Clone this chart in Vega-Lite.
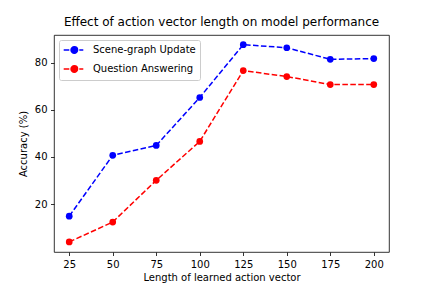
{
  "$schema": "https://vega.github.io/schema/vega-lite/v6.json",
  "autosize": {"type": "none"},
  "width": 335,
  "height": 217,
  "padding": {"left": 54, "top": 35, "right": 43, "bottom": 36},
  "background": "white",
  "title": {"text": "Effect of action vector length on model performance", "font": "DejaVu Sans", "fontSize": 12, "fontWeight": "normal", "color": "black", "anchor": "middle", "offset": 6},
  "data": {"values": [
    {"length": 25, "series": "Scene-graph Update", "accuracy": 14.9},
    {"length": 50, "series": "Scene-graph Update", "accuracy": 40.7},
    {"length": 75, "series": "Scene-graph Update", "accuracy": 44.9},
    {"length": 100, "series": "Scene-graph Update", "accuracy": 65.2},
    {"length": 125, "series": "Scene-graph Update", "accuracy": 87.6},
    {"length": 150, "series": "Scene-graph Update", "accuracy": 86.3},
    {"length": 175, "series": "Scene-graph Update", "accuracy": 81.4},
    {"length": 200, "series": "Scene-graph Update", "accuracy": 81.7},
    {"length": 25, "series": "Question Answering", "accuracy": 4.0},
    {"length": 50, "series": "Question Answering", "accuracy": 12.4},
    {"length": 75, "series": "Question Answering", "accuracy": 30.1},
    {"length": 100, "series": "Question Answering", "accuracy": 46.6},
    {"length": 125, "series": "Question Answering", "accuracy": 76.6},
    {"length": 150, "series": "Question Answering", "accuracy": 74.1},
    {"length": 175, "series": "Question Answering", "accuracy": 70.7},
    {"length": 200, "series": "Question Answering", "accuracy": 70.7}
  ]},
  "mark": {"type": "line", "strokeDash": [5.55, 2.4], "strokeWidth": 1.5, "point": {"filled": true, "size": 45, "opacity": 1}},
  "encoding": {
    "x": {"field": "length", "type": "quantitative", "scale": {"domain": [16.25, 208.75], "nice": false, "zero": false},
      "axis": {"title": "Length of learned action vector", "values": [25, 50, 75, 100, 125, 150, 175, 200], "labelFlush": false, "labelOverlap": false, "titlePadding": 3}},
    "y": {"field": "accuracy", "type": "quantitative", "scale": {"domain": [-0.28, 91.7], "nice": false, "zero": false},
      "axis": {"title": "Accuracy (%)", "values": [20, 40, 60, 80], "labelFlush": false, "labelOverlap": false, "titlePadding": 6}},
    "color": {"field": "series", "type": "nominal", "sort": null,
      "scale": {"domain": ["Scene-graph Update", "Question Answering"], "range": ["#0000ff", "#ff0000"]},
      "legend": {"title": null, "orient": "none", "legendX": 5, "legendY": 5,
        "symbolType": "M-1.06,0H0.06M0.5,0H1.6M2.06,0H2.86M1.71,0A0.65,0.65,0,1,1,0.41,0A0.65,0.65,0,1,1,1.71,0Z",
        "symbolSize": 100, "symbolStrokeWidth": 1.5, "symbolDash": [], "labelOffset": 18,
        "labelFont": "DejaVu Sans", "labelFontSize": 10, "labelColor": "black",
        "padding": 4, "rowPadding": 5, "strokeColor": "#cccccc", "fillColor": "white", "cornerRadius": 2,
        "encode": {"symbols": {"update": {"fill": {"scale": "color", "field": "value"}, "stroke": {"scale": "color", "field": "value"}, "opacity": {"value": 1}}}}}}
  },
  "config": {
    "view": {"stroke": "black", "strokeWidth": 0.8},
    "axis": {"grid": false, "domain": false, "tickColor": "black", "tickSize": 3.5, "tickWidth": 0.8, "labelPadding": 3.5,
      "labelFont": "DejaVu Sans", "labelFontSize": 10, "labelColor": "black",
      "titleFont": "DejaVu Sans", "titleFontSize": 10, "titleFontWeight": "normal", "titleColor": "black"}
  }
}
